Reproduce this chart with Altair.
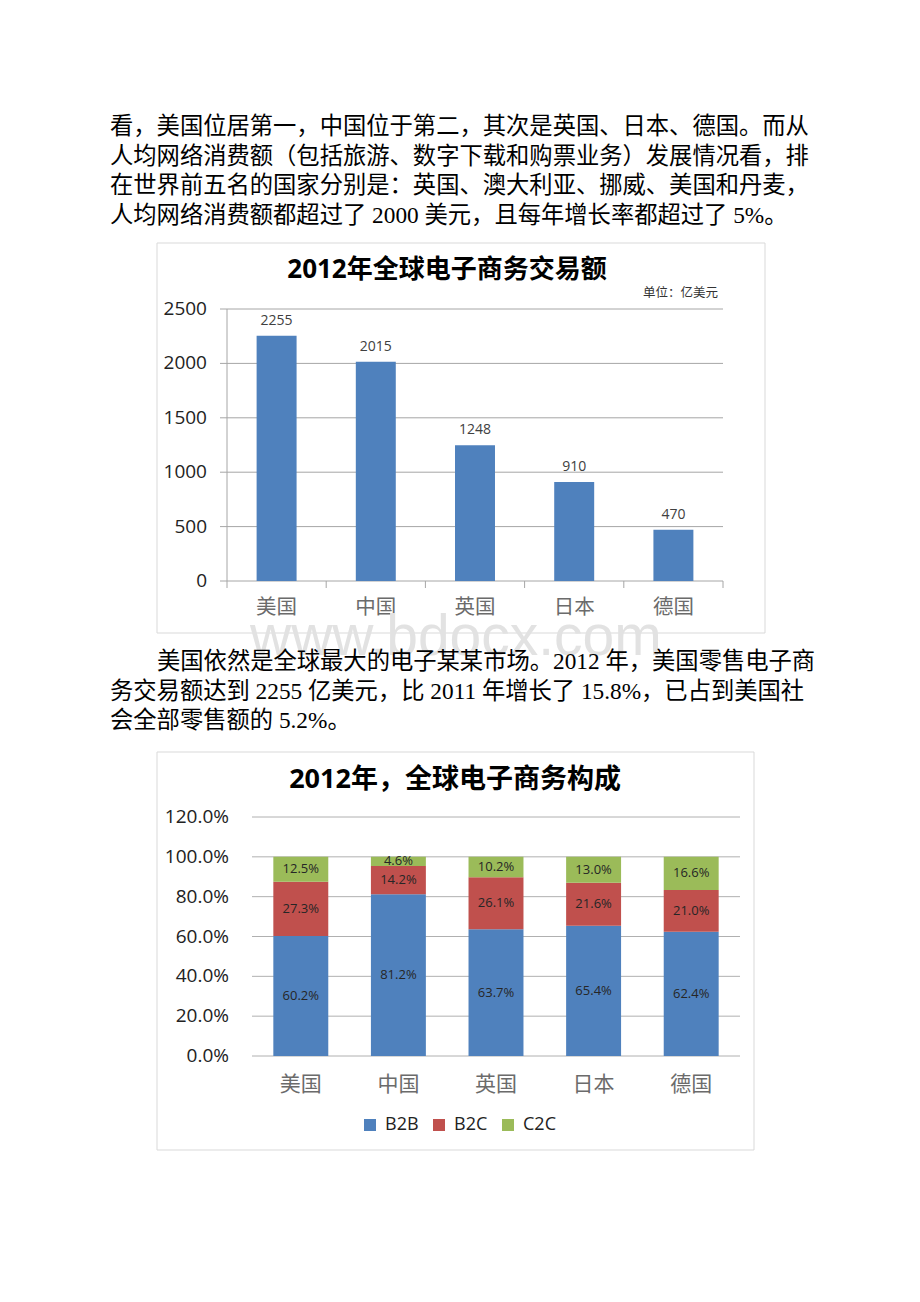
import altair as alt
import pandas as pd

# ---------------- data ----------------
countries = ["美国", "中国", "英国", "日本", "德国"]
volume = [2255, 2015, 1248, 910, 470]
volume_ticks = [0, 500, 1000, 1500, 2000, 2500]

segments = ["B2B", "B2C", "C2C"]
b2b = [60.2, 81.2, 63.7, 65.4, 62.4]
b2c = [27.3, 14.2, 26.1, 21.6, 21.0]
c2c = [12.5, 4.6, 10.2, 13.0, 16.6]
share_ticks = [0, 20, 40, 60, 80, 100, 120]
seg_colors = ["#4f81bd", "#c0504d", "#9bbb59"]

title1 = "2012年全球电子商务交易额"
unit1 = "单位：亿美元"
title2 = "2012年，全球电子商务构成"
watermark = "www.bdocx.com"

para1 = [
    "看，美国位居第一，中国位于第二，其次是英国、日本、德国。而从",
    "人均网络消费额（包括旅游、数字下载和购票业务）发展情况看，排",
    "在世界前五名的国家分别是：英国、澳大利亚、挪威、美国和丹麦，",
    "人均网络消费额都超过了 2000 美元，且每年增长率都超过了 5%。",
]
para2_first = "美国依然是全球最大的电子某某市场。2012 年，美国零售电子商"
para2_rest = [
    "务交易额达到 2255 亿美元，比 2011 年增长了 15.8%，已占到美国社",
    "会全部零售额的 5.2%。",
]

# ---------------- tables ----------------
df_vol = pd.DataFrame({"country": countries, "volume": volume})
df_vol_ticks = pd.DataFrame({"v": volume_ticks})
rows = []
for i, c in enumerate(countries):
    for j, (s, vals) in enumerate(zip(segments, [b2b, b2c, c2c])):
        rows.append({"country": c, "seg": s, "idx": j, "pct": vals[i]})
df_share = pd.DataFrame(rows)
df_share_ticks = pd.DataFrame({"v": share_ticks})

BODY_FONT = "'Liberation Serif', 'Noto Sans CJK SC'"
CJK = "Noto Sans CJK SC"
NUM = "Open Sans"
TITLE_FONT = "'Open Sans', 'Noto Sans CJK SC'"


def one(text):
    return pd.DataFrame({"t": [text]})


# ---------------- frames ----------------
frame1 = alt.Chart(one("f")).mark_rect(fill="white", stroke="#d9d9d9", strokeWidth=1).encode(
    x=alt.value(157), x2=alt.value(765), y=alt.value(243), y2=alt.value(633))
frame2 = alt.Chart(one("f")).mark_rect(fill="white", stroke="#d9d9d9", strokeWidth=1).encode(
    x=alt.value(157), x2=alt.value(754), y=alt.value(752), y2=alt.value(1150))

# ---------------- chart 1 ----------------
xA = alt.Scale(domain=countries, range=[227, 723], paddingInner=0, paddingOuter=0)
yA = alt.Scale(domain=[0, 2500], range=[581, 309], nice=False, zero=True)

gridA = alt.Chart(df_vol_ticks).mark_rule(color="#a6a6a6", strokeWidth=1).encode(
    y=alt.Y("v:Q", scale=yA, axis=None), x=alt.value(220), x2=alt.value(723))
axisA = alt.Chart(df_vol_ticks).mark_rule(color="#a6a6a6", strokeWidth=1).encode(
    y=alt.Y("min(v):Q", scale=yA, axis=None), y2=alt.Y2("max(v):Q"), x=alt.value(227))
ticksA = alt.Chart(df_vol).mark_rule(color="#a6a6a6", strokeWidth=1).encode(
    x=alt.X("country:N", scale=xA, axis=None, bandPosition=0), y=alt.value(581), y2=alt.value(588))
ticksA_end = alt.Chart(df_vol.tail(1)).mark_rule(color="#a6a6a6", strokeWidth=1).encode(
    x=alt.X("country:N", scale=xA, axis=None, bandPosition=1), y=alt.value(581), y2=alt.value(588))
barsA = alt.Chart(df_vol).mark_bar(color="#4f81bd", width=alt.RelativeBandSize(0.403)).encode(
    x=alt.X("country:N", scale=xA, axis=None), y=alt.Y("volume:Q", scale=yA, axis=None))
valA = alt.Chart(df_vol).mark_text(font=NUM, fontSize=14, color="#404040", baseline="middle", dy=-15).encode(
    x=alt.X("country:N", scale=xA, axis=None), y=alt.Y("volume:Q", scale=yA, axis=None), text="volume:Q")
xlabA = alt.Chart(df_vol).mark_text(font=CJK, fontSize=20.5, color="#6b6b6b", baseline="middle").encode(
    x=alt.X("country:N", scale=xA, axis=None), y=alt.value(608), text="country:N")
ylabA = alt.Chart(df_vol_ticks).mark_text(font=NUM, fontSize=19, color="#222222", align="right", baseline="middle").encode(
    y=alt.Y("v:Q", scale=yA, axis=None), x=alt.value(207), text="v:Q")
titleA = alt.Chart(one(title1)).mark_text(font=TITLE_FONT, fontSize=26, fontWeight="bold", color="#000000",
                                           baseline="middle", align="center").encode(
    text="t:N", x=alt.value(447), y=alt.value(270))
unitA = alt.Chart(one(unit1)).mark_text(font=CJK, fontSize=12.5, color="#333333", baseline="middle", align="right").encode(
    text="t:N", x=alt.value(718), y=alt.value(293))

groupA = alt.layer(gridA, axisA, ticksA, ticksA_end, barsA, valA, xlabA, ylabA, titleA, unitA)

# ---------------- chart 2 ----------------
xB = alt.Scale(domain=countries, range=[252, 740], paddingInner=0, paddingOuter=0)
yB = alt.Scale(domain=[0, 120], range=[1056, 817], nice=False, zero=True)

gridB = alt.Chart(df_share_ticks).mark_rule(color="#b0b0b0", strokeWidth=1).encode(
    y=alt.Y("v:Q", scale=yB, axis=None), x=alt.value(252), x2=alt.value(740))
ylabB = alt.Chart(df_share_ticks).transform_calculate(
    lab="format(datum.v, '.1f') + '%'").mark_text(
    font=NUM, fontSize=19, color="#222222", align="right", baseline="middle").encode(
    y=alt.Y("v:Q", scale=yB, axis=None), x=alt.value(229), text="lab:N")

stacked = alt.Chart(df_share).transform_stack(
    stack="pct", as_=["y0", "y1"], groupby=["country"],
    sort=[alt.SortField("idx", order="ascending")]
).transform_calculate(
    mid="(datum.y0 + datum.y1) / 2", lab="format(datum.pct, '.1f') + '%'"
)
barsB = stacked.mark_bar(width=alt.RelativeBandSize(0.563)).encode(
    x=alt.X("country:N", scale=xB, axis=None),
    y=alt.Y("y0:Q", scale=yB, axis=None), y2="y1:Q",
    color=alt.Color("seg:N", scale=alt.Scale(domain=segments, range=seg_colors),
                    legend=alt.Legend(orient="none", legendX=361, legendY=1116, direction="horizontal",
                                      title=None, symbolType="square", symbolSize=144, symbolStrokeWidth=0,
                                      labelFont=NUM, labelFontSize=18, labelColor="#222222",
                                      labelOffset=6, columnPadding=11, padding=0)))
labB = stacked.mark_text(font=NUM, fontSize=13, color="#262626", baseline="middle").encode(
    x=alt.X("country:N", scale=xB, axis=None),
    y=alt.Y("mid:Q", scale=yB, axis=None), text="lab:N")
xlabB = alt.Chart(df_vol).mark_text(font=CJK, fontSize=21, color="#6b6b6b", baseline="middle").encode(
    x=alt.X("country:N", scale=xB, axis=None), y=alt.value(1085), text="country:N")
titleB = alt.Chart(one(title2)).mark_text(font=TITLE_FONT, fontSize=27, fontWeight="bold", color="#000000",
                                           baseline="middle", align="center").encode(
    text="t:N", x=alt.value(455), y=alt.value(780))

groupB = alt.layer(gridB, ylabB, barsB, labB, xlabB, titleB)

# ---------------- page text ----------------
wm = alt.Chart(one(watermark)).mark_text(font="Liberation Sans", fontSize=57, color="#e2e2e2",
                                         align="left", baseline="alphabetic").encode(
    text="t:N", x=alt.value(250), y=alt.value(655))
p1 = alt.Chart(one("\n".join(para1))).mark_text(font=BODY_FONT, fontSize=23.3, color="#000000",
                                                align="left", baseline="top", lineBreak="\n",
                                                lineHeight=29.6).encode(
    text="t:N", x=alt.value(110), y=alt.value(116))
p2a = alt.Chart(one(para2_first)).mark_text(font=BODY_FONT, fontSize=23.3, color="#000000",
                                            align="left", baseline="top").encode(
    text="t:N", x=alt.value(157), y=alt.value(651))
p2b = alt.Chart(one("\n".join(para2_rest))).mark_text(font=BODY_FONT, fontSize=23.3, color="#000000",
                                                      align="left", baseline="top", lineBreak="\n",
                                                      lineHeight=29.6).encode(
    text="t:N", x=alt.value(110), y=alt.value(680.6))

chart = alt.layer(frame1, frame2, groupA, groupB, wm, p1, p2a, p2b).resolve_scale(
    x="independent", y="independent"
).properties(
    width=920, height=1302, padding=0, background="white",
    autosize=alt.AutoSizeParams(type="none"),
).configure_view(stroke=None)

chart.save("out.html", embed_options={"renderer": "svg", "actions": False})
